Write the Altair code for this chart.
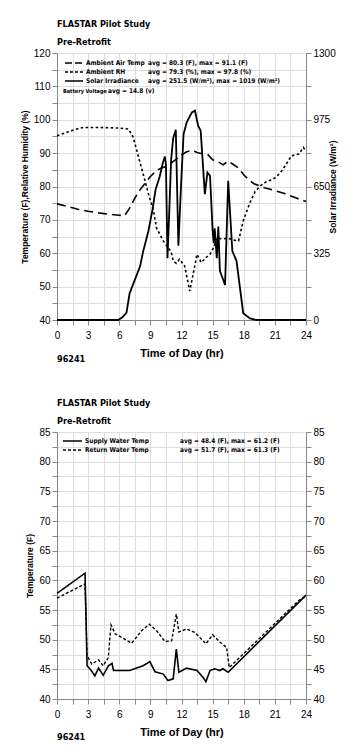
import altair as alt
import pandas as pd

FONT = "'DejaVu Sans Condensed', 'DejaVu Sans', sans-serif"

# ---------------- data ----------------
hours_air = [0, 1, 2, 3, 4, 5, 6, 6.5, 7, 7.5, 8, 8.5, 9, 9.5, 10, 10.5, 11, 11.5, 12, 12.5,
             13, 13.5, 14, 14.5, 15, 15.5, 16, 16.5, 17, 17.5, 18, 18.5, 19, 19.5, 20, 21, 22, 23, 24]
air_temp = [74.8, 74.0, 73.2, 72.6, 72.1, 71.7, 71.4, 71.2, 73.5, 76.5, 79.0, 81.0, 83.0, 84.5, 85.5, 86.0, 87.0, 88.2, 89.5, 90.4,
            90.8, 90.2, 89.8, 89.7, 88.0, 87.5, 86.5, 87.6, 86.6, 85.5, 83.5, 82.0, 80.8, 80.2, 79.6, 78.8, 77.8, 76.6, 75.5]

hours_rh = [0, 1, 2, 2.5, 3, 4, 5, 6, 6.9, 7.35, 7.8, 8.3, 8.8, 9.3, 9.6, 10.25, 10.7, 11.0, 11.2, 11.5,
            11.8, 12.3, 12.8, 13.5, 13.9, 14.4, 14.75, 15.1, 15.4, 16.0, 16.5, 17.0, 17.5, 17.95, 18.6, 19.1,
            19.6, 20.2, 20.85, 21.5, 22.0, 22.6, 23.3, 23.75, 24]
rel_hum = [95.2, 96.3, 97.3, 97.7, 97.7, 97.7, 97.6, 97.5, 97.2, 94.7, 89.5, 83.8, 78.0, 72.7, 67.5, 63.7, 61.7, 60.5, 57.7, 57.0,
           58.2, 56.2, 48.7, 59.7, 57.2, 58.8, 59.7, 61.7, 64.5, 64.3, 64.5, 64.0, 63.7, 69.7, 75.2, 78.5,
           80.2, 81.5, 82.2, 84.0, 86.2, 89.2, 89.7, 91.7, 90.5]

hours_sol = [0, 5.9, 6.3, 6.7, 7.0, 7.5, 8.0, 8.3, 8.8, 9.2, 9.5, 9.9, 10.2, 10.4, 10.5, 10.65, 10.85, 11.0, 11.2, 11.45,
             11.7, 11.95, 12.2, 12.5, 13.0, 13.3, 13.6, 13.85, 14.25, 14.5, 14.75, 15.0, 15.1, 15.2, 15.4, 15.55, 15.7,
             16.2, 16.5, 16.9, 17.3, 17.95, 18.6, 19.2, 24]
solar = [0, 0, 13, 36, 130, 195, 260, 333, 431, 536, 634, 699, 764, 796, 756, 301, 569, 780, 886, 926,
         362, 650, 905, 962, 1011, 1019, 946, 921, 613, 718, 702, 434, 374, 447, 301, 455, 239,
         171, 678, 336, 288, 33, 8, 0, 0]

hours_sup = [0, 2.7, 2.9, 3.3, 3.65, 4.0, 4.45, 4.95, 5.3, 5.45, 7.0, 8.3, 8.95, 9.45, 10.25, 10.7, 11.2, 11.5, 11.75,
             12.5, 13.5, 14.1, 14.35, 14.75, 15.2, 15.7, 16.0, 16.5, 24]
supply = [57.8, 61.2, 45.6, 44.8, 43.9, 45.2, 44.0, 45.6, 46.0, 44.8, 44.8, 45.6, 46.3, 44.6, 44.2, 43.1, 43.4, 48.4, 44.5,
          45.2, 44.8, 43.6, 42.9, 44.8, 45.1, 44.8, 45.1, 44.5, 57.5]

hours_ret = [0, 2.7, 2.9, 3.35, 4.0, 4.45, 4.95, 5.2, 5.6, 7.2, 8.15, 8.9, 9.6, 10.4, 11.05, 11.5, 11.75, 12.5, 13.3,
             14.35, 15.0, 15.7, 16.35, 16.6, 23.3, 24]
ret_temp = [57.0, 59.4, 47.3, 45.9, 46.6, 45.6, 47.0, 52.5, 51.0, 49.4, 51.5, 52.6, 51.5, 49.7, 49.8, 54.3, 51.3, 51.8, 51.2,
            49.3, 50.8, 49.6, 48.7, 45.3, 56.6, 57.4]

title_main = "FLASTAR Pilot Study"
title_sub = "Pre-Retrofit"
site_id = "96241"
top_labels = ["Ambient Air Temp", "Ambient RH", "Solar Irradiance"]
top_stats = ["avg = 80.3 (F), max = 91.1 (F)", "avg = 79.3 (%), max = 97.8 (%)",
             "avg = 251.5 (W/m\u00b2), max = 1019 (W/m\u00b2)"]
battery_label = "Battery Voltage"
battery_stat = "avg = 14.8 (v)"
bot_labels = ["Supply Water Temp", "Return Water Temp"]
bot_stats = ["avg = 48.4 (F), max = 61.2 (F)", "avg = 51.7 (F), max = 61.3 (F)"]

W, H = 249, 267
LEG = 6.5

x_ticks = [i * 1.5 for i in range(17)]
x_enc = alt.X("hr:Q", scale=alt.Scale(domain=[0, 24], nice=False),
              axis=alt.Axis(values=x_ticks, labelExpr="datum.value % 3 == 0 ? datum.label : ''",
                            title="Time of Day (hr)", titlePadding=7, labelPadding=5,
                            labelOverlap=False, labelFlush=False))

# ---------------- top chart ----------------
df_top = pd.concat([
    pd.DataFrame({"hr": hours_air, "v": air_temp, "s": "air"}),
    pd.DataFrame({"hr": hours_rh, "v": rel_hum, "s": "rh"}),
])
df_sol = pd.DataFrame({"hr": hours_sol, "v": solar})

left_ticks = list(range(40, 121, 5))
temp_lines = alt.Chart(df_top).mark_line(color="black", strokeWidth=1.6).encode(
    x=x_enc,
    y=alt.Y("v:Q", scale=alt.Scale(domain=[40, 120], nice=False),
            axis=alt.Axis(values=left_ticks, labelExpr="datum.value % 10 == 0 ? datum.label : ''",
                          title="Temperature (F),Relative Humidity (%)", titleFontSize=8.5, labelOverlap=False)),
    strokeDash=alt.StrokeDash("s:N", scale=alt.Scale(domain=["air", "rh"], range=[[9, 5], [2.5, 2.5]]), legend=None),
    detail="s:N",
)
sol_ticks = [i * 162.5 for i in range(9)]
sol_line = alt.Chart(df_sol).mark_line(color="black", strokeWidth=1.8).encode(
    x=x_enc,
    y=alt.Y("v:Q", scale=alt.Scale(domain=[0, 1300], nice=False),
            axis=alt.Axis(orient="right", values=sol_ticks,
                          labelExpr="datum.value % 325 == 0 ? datum.label : ''",
                          title="Solar Irradiance (W/m\u00b2)", titleAngle=270, titleFontSize=8.5,
                          titleX=26, titleY=H / 2, titleAlign="center", titleBaseline="middle",
                          labelOverlap=False, format="d")),
)

leg_df = pd.DataFrame({"label": top_labels, "stat": top_stats})
row_y = [10, 19, 28]
dashes = [[7, 3], [3, 2], [1, 0]]
top_layers = []
for i in range(3):
    top_layers.append(
        alt.Chart(leg_df.iloc[[i]]).mark_rule(color="black", strokeWidth=1.4, strokeDash=dashes[i]).encode(
            x=alt.value(8), x2=alt.value(26), y=alt.value(row_y[i])))
    top_layers.append(alt.Chart(leg_df.iloc[[i]]).mark_text(
        align="left", baseline="middle", font=FONT, fontWeight="bold", fontSize=LEG).encode(
        x=alt.value(29), y=alt.value(row_y[i]), text="label:N"))
    top_layers.append(alt.Chart(leg_df.iloc[[i]]).mark_text(
        align="left", baseline="middle", font=FONT, fontWeight="bold", fontSize=LEG).encode(
        x=alt.value(91), y=alt.value(row_y[i]), text="stat:N"))
bat_df = pd.DataFrame({"label": [battery_label], "stat": [battery_stat], "id": [site_id]})
top_layers.append(alt.Chart(bat_df).mark_text(
    align="left", baseline="middle", font=FONT, fontWeight="bold", fontSize=5.5).encode(
    x=alt.value(6), y=alt.value(38), text="label:N"))
top_layers.append(alt.Chart(bat_df).mark_text(
    align="left", baseline="middle", font=FONT, fontWeight="bold", fontSize=LEG).encode(
    x=alt.value(51), y=alt.value(38), text="stat:N"))
top_layers.append(alt.Chart(bat_df).mark_text(
    align="left", baseline="middle", font=FONT, fontWeight="bold", fontSize=9).encode(
    x=alt.value(0), y=alt.value(H + 39), text="id:N"))

title_params = dict(text=title_main, subtitle=title_sub, anchor="start", frame="group",
                    fontSize=9, subtitleFontSize=9, font=FONT, subtitleFont=FONT,
                    fontWeight="bold", subtitleFontWeight="bold", subtitlePadding=9, offset=1,
                    color="black", subtitleColor="black")

top = alt.layer(temp_lines, sol_line, *top_layers).resolve_scale(
    y="independent", strokeDash="independent").properties(
    width=W, height=H, title=alt.TitleParams(**title_params))

# ---------------- bottom chart ----------------
df_sup = pd.DataFrame({"hr": hours_sup, "v": supply})
df_ret = pd.DataFrame({"hr": hours_ret, "v": ret_temp})
b_ticks = [40 + i * 2.5 for i in range(19)]
sup_line = alt.Chart(df_sup).mark_line(color="black", strokeWidth=1.6).encode(
    x=x_enc,
    y=alt.Y("v:Q", scale=alt.Scale(domain=[40, 85], nice=False),
            axis=alt.Axis(values=b_ticks, labelExpr="datum.value % 5 == 0 ? datum.label : ''",
                          title="Temperature (F)", titleFontSize=8.5, labelOverlap=False)),
)
ret_line = alt.Chart(df_ret).mark_line(color="black", strokeWidth=1.4, strokeDash=[3, 2]).encode(
    x=x_enc,
    y=alt.Y("v:Q", scale=alt.Scale(domain=[40, 85], nice=False),
            axis=alt.Axis(orient="right", values=b_ticks, labelExpr="datum.value % 5 == 0 ? datum.label : ''",
                          title=None, labelOverlap=False)),
)
bleg_df = pd.DataFrame({"label": bot_labels, "stat": bot_stats, "id": [site_id, site_id]})
brow_y = [9, 18]
bdash = [[1, 0], [3, 2]]
b_layers = []
for i in range(2):
    b_layers.append(alt.Chart(bleg_df.iloc[[i]]).mark_rule(color="black", strokeWidth=1.4, strokeDash=bdash[i]).encode(
        x=alt.value(6), x2=alt.value(25), y=alt.value(brow_y[i])))
    b_layers.append(alt.Chart(bleg_df.iloc[[i]]).mark_text(
        align="left", baseline="middle", font=FONT, fontWeight="bold", fontSize=LEG).encode(
        x=alt.value(28), y=alt.value(brow_y[i]), text="label:N"))
    b_layers.append(alt.Chart(bleg_df.iloc[[i]]).mark_text(
        align="left", baseline="middle", font=FONT, fontWeight="bold", fontSize=LEG).encode(
        x=alt.value(123), y=alt.value(brow_y[i]), text="stat:N"))
b_layers.append(alt.Chart(bleg_df.iloc[[0]]).mark_text(
    align="left", baseline="middle", font=FONT, fontWeight="bold", fontSize=9).encode(
    x=alt.value(0), y=alt.value(H + 38), text="id:N"))

bottom = alt.layer(sup_line, ret_line, *b_layers).resolve_scale(y="independent").properties(
    width=W, height=H, title=alt.TitleParams(**title_params))

chart = alt.vconcat(top, bottom, spacing=33).properties(
    padding={"left": 19, "top": 19, "right": 5, "bottom": 5}
).configure_view(stroke="black", strokeWidth=1.5).configure_axis(
    domainColor="black", domainWidth=1.5, tickColor="black", tickWidth=1.3, tickSize=6,
    labelColor="black", titleColor="black", labelFont=FONT, titleFont=FONT,
    labelFontWeight="bold", titleFontWeight="bold", labelFontSize=10, titleFontSize=9.5,
    grid=False, labelPadding=2, labelOverlap=False,
).configure_axisX(labelFlush=False, labelOverlap=False).configure(background="white")

chart.save("out.html", embed_options={"renderer": "svg", "actions": False})
